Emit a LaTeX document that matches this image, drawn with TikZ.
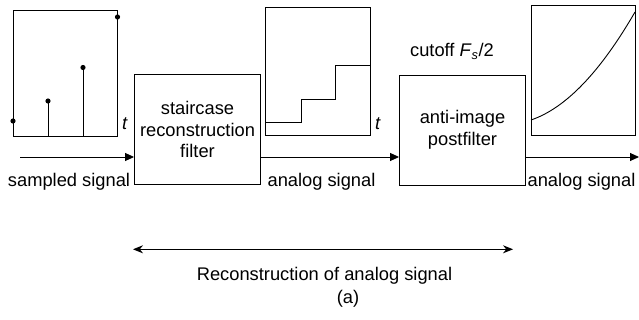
\documentclass[tikz,border=0pt]{standalone}
\usepackage{fontspec}
\setmainfont{Liberation Sans}
\usetikzlibrary{arrows.meta}
\begin{document}
\begin{tikzpicture}[x=1pt,y=-1pt,line width=0.9pt,
  lbl/.style={font=\fontsize{18.3}{21.5}\selectfont,inner sep=0pt,anchor=base},
  blk/.style={draw,minimum width=126pt,minimum height=110pt,align=center,
    font=\fontsize{18.3}{21.5}\selectfont,inner sep=0pt},
  sig/.style={-{Triangle[length=9pt,width=8pt]}},
  span/.style={{Stealth[length=10pt,width=8pt]}-{Stealth[length=10pt,width=8pt]}},
  dot/.style={fill}]
\useasboundingbox (0,0) rectangle (639,320);

% signal graphs
\draw (13,10) rectangle (117.5,136);
\draw (48,136) -- (48,101);
\draw (83,136) -- (83,67.5);
\fill (13,121) circle (2.6pt);
\fill (48,101) circle (2.6pt);
\fill (83,67.5) circle (2.6pt);
\fill (117.5,17) circle (2.6pt);
\node[lbl] (t1) at (125,130) {\textit{t}};

\draw (265.5,7) rectangle (370,135);
\draw (265.5,122) -- (301,122) -- (301,99.3) -- (335.5,99.3) -- (335.5,65) -- (370,65);
\node[lbl] (t2) at (378,130) {\textit{t}};

\draw (531,5) rectangle (635,135);
\draw (531,120) .. controls (565.7,108.2) and (600.3,72) .. (635,12);

% blocks
\node[blk] (box1) at (197.5,129.75) {staircase\\reconstruction\\filter};
\node[blk] (box2) at (462.5,130) {anti-image\\postfilter};
\node[lbl] (cut) at (452,56.7) {cutoff \textit{F}\textsubscript{\textit{s}}/2};

% connectors
\coordinate (in1) at (20,157);
\coordinate (out1) at (639,157);
\draw[sig] (in1) -- (in1 -| box1.west);
\draw[sig] (box1.east |- in1) -- (box2.west |- in1);
\draw[sig] (box2.east |- in1) -- (out1);

\node[lbl] (l1) at (69,187) {sampled signal};
\node[lbl] (l2) at (321.5,187) {analog signal};
\node[lbl] (l3) at (581.5,187) {analog signal};

% span arrow
\coordinate (sL) at (133,249.3);
\coordinate (sR) at (513,249.3);
\draw[span] (sL) -- (sR);
\node[lbl] (rec) at (324.5,280) {Reconstruction of analog signal};
\node[lbl] (cap) at (348,303.3) {(a)};
\end{tikzpicture}
\end{document}
